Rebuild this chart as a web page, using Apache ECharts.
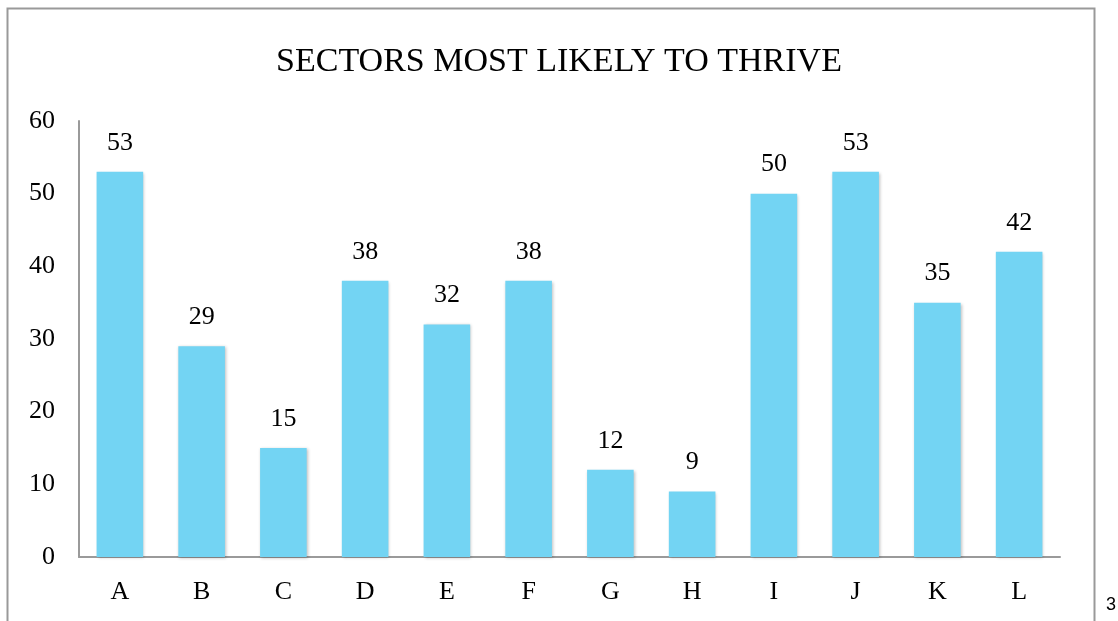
<!DOCTYPE html>
<html>
<head>
<meta charset="utf-8">
<script src="https://cdn.jsdelivr.net/npm/echarts@6/dist/echarts.min.js"></script>
<style>
  html, body { margin: 0; padding: 0; background: #fff; }
  #chart { width: 1118px; height: 621px; }
</style>
</head>
<body>
<div id="chart"></div>
<script>
// sectors and how many picked each one
const sectors = ['A', 'B', 'C', 'D', 'E', 'F', 'G', 'H', 'I', 'J', 'K', 'L'];
const votes = [53, 29, 15, 38, 32, 38, 12, 9, 50, 53, 35, 42];
const yTicks = [0, 10, 20, 30, 40, 50, 60];

const serif = '"Liberation Serif", "DejaVu Serif", serif';

echarts.init(document.querySelector('#chart')).setOption({
  animation: false,
  title: {
    text: 'SECTORS MOST LIKELY TO THRIVE',
    left: 'center',
    top: 40,
    textStyle: { fontFamily: serif, fontSize: 34, fontWeight: 'normal', color: '#000' }
  },
  graphic: [
    {
      type: 'rect',
      shape: { x: 7.5, y: 8.5, width: 1087, height: 700 },
      style: { fill: 'none', stroke: '#999', lineWidth: 2 },
      silent: true
    },
    {
      type: 'text',
      left: 1106, top: 596,
      style: { text: '3', fontFamily: 'Liberation Sans, Arial, sans-serif', fontSize: 18, fill: '#000' }
    }
  ],
  grid: { left: 79, right: 58, top: 121, bottom: 64 },
  xAxis: {
    type: 'category',
    data: sectors,
    axisLine: { lineStyle: { color: '#9a9a9a', width: 2 } },
    axisTick: { show: false },
    axisLabel: { fontFamily: serif, fontSize: 26, color: '#000', margin: 22 }
  },
  yAxis: {
    type: 'value',
    min: yTicks[0],
    max: yTicks[yTicks.length - 1],
    interval: 10,
    axisLine: { show: true, lineStyle: { color: '#9a9a9a', width: 2 } },
    axisTick: { show: false },
    splitLine: { show: false },
    axisLabel: { fontFamily: serif, fontSize: 26, color: '#000', margin: 24 }
  },
  series: [{
    type: 'bar',
    data: votes,
    barWidth: '57%',
    itemStyle: {
      color: '#73d4f3',
      shadowColor: 'rgba(0,0,0,0.25)',
      shadowBlur: 3,
      shadowOffsetX: 1,
      shadowOffsetY: 1
    },
    label: {
      show: true,
      position: 'top',
      distance: 16,
      fontFamily: serif,
      fontSize: 26,
      color: '#000'
    }
  }]
});
</script>
</body>
</html>
